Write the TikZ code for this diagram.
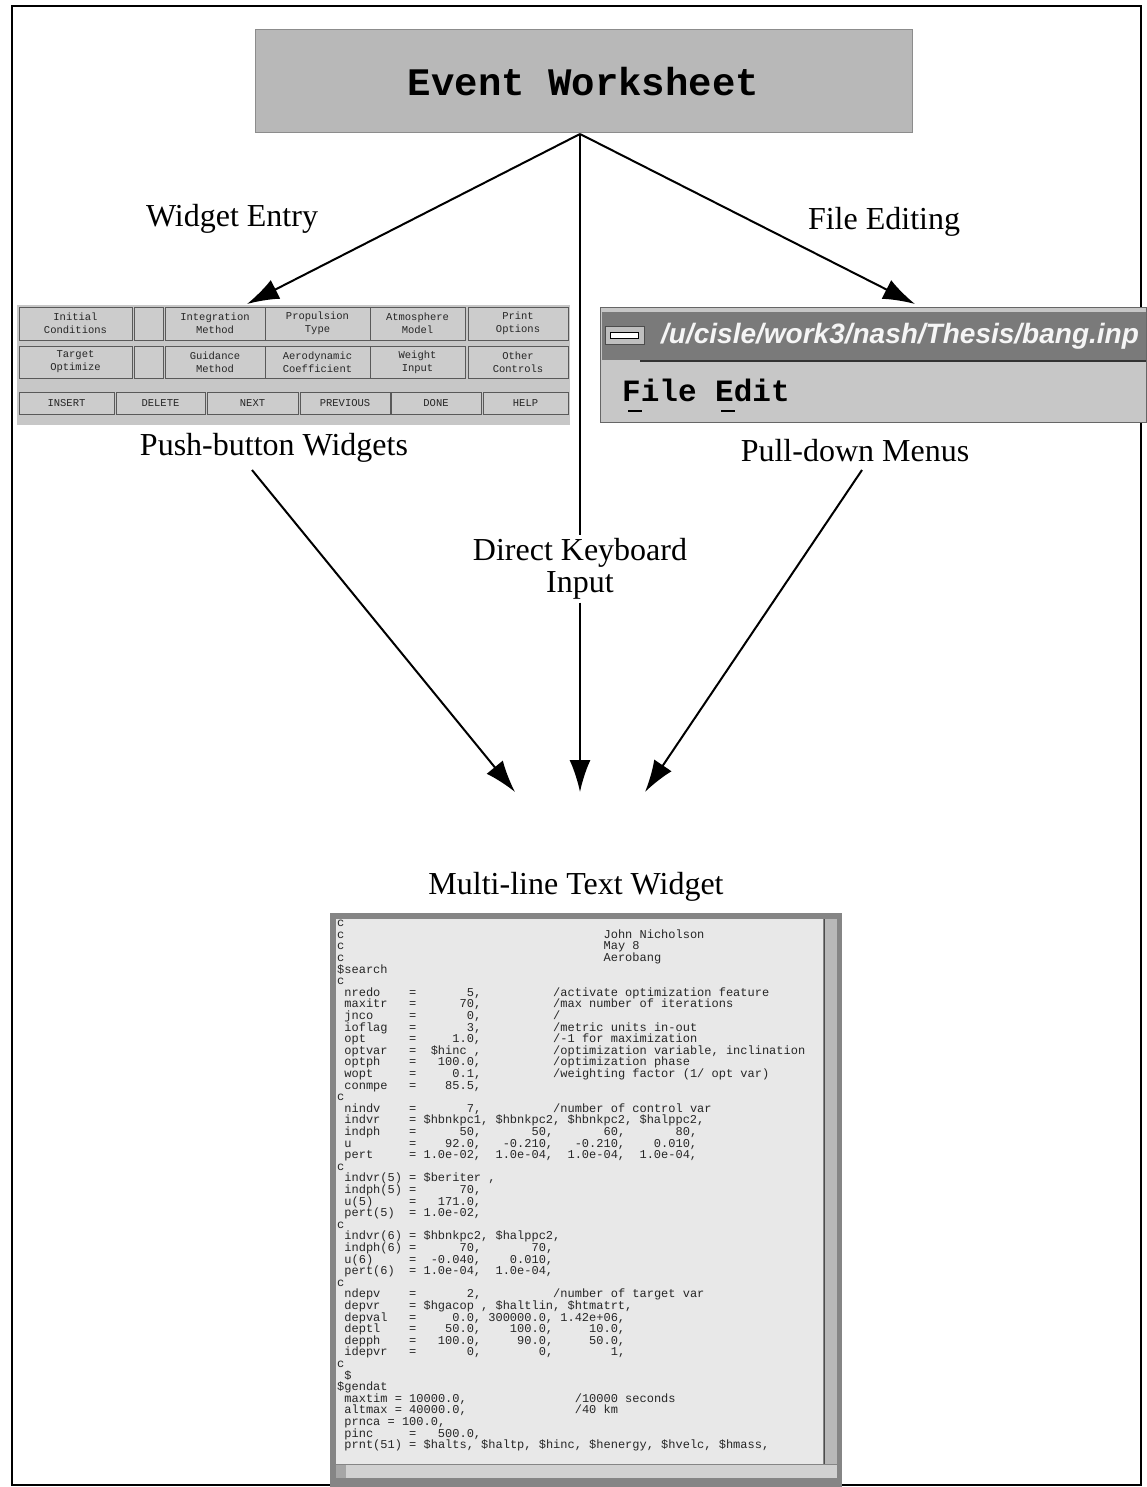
\documentclass[tikz,border=0pt]{standalone}
\usepackage{fontspec}
\usepackage{graphicx}
\setmainfont{Liberation Serif}
\setsansfont{Liberation Sans}
\setmonofont{Liberation Mono}
\usetikzlibrary{arrows.meta}
\newlength\cw
\setlength\cw{7.2pt}
\newcommand\pd[2]{\makebox[#1\cw][l]{#2}}
\newcommand\rp[2]{\makebox[#1\cw][r]{#2}}
\newcommand\CV[3]{\pd{10}{~#1}=\rp{9}{#2}\hspace*{10\cw}#3}
\newcommand\CQ[2]{\pd{10}{~#1}=#2}
\newcommand\FA[1]{\rp{9}{#1}}
\newcommand\FV[1]{\rp{10}{#1}}
\newcommand\GV[1]{\pd{10}{#1}}
\tikzset{
  lbl/.style={font=\fontsize{32}{32}\selectfont, inner sep=3pt, align=center},
  btn/.style={draw=black!65, line width=0.8pt, fill=black!20, inner sep=0pt,
    font=\fontsize{10.5}{13}\selectfont\ttfamily, text=black!85, align=center},
  arr/.style={line width=2pt, -{Latex[length=32pt,width=21pt]}},
  ln/.style={line width=2pt},
}
\begin{document}
\begin{tikzpicture}[x=1pt,y=-1pt]
\useasboundingbox (0,0) rectangle (1146,1487);
% outer frame
\draw[line width=2.5pt] (12,6) rectangle (1141,1485);

% Event Worksheet
\node[fill=black!28, draw=black!45, line width=1pt, minimum width=657, minimum height=103,
  font=\fontsize{39}{40}\selectfont\ttfamily\bfseries] (ew) at (583.5,81.5) {Event Worksheet};
\coordinate (apex) at (580,134);

% labels
\node[lbl] (we) at (232,219) {Widget Entry};
\node[lbl] (fe) at (884,222) {File Editing};
\node[lbl] (pbl) at (274,448) {Push-button Widgets};
\node[lbl] (pdl) at (855,451) {Pull-down Menus};
\node[lbl] (dk) at (580,569) {Direct Keyboard\\Input};
\node[lbl] (mt) at (576,887) {Multi-line Text Widget};

% push-button panel
\node[fill=black!22, minimum width=553, minimum height=120, inner sep=0pt] (pb) at (293.5,365) {};
\node[btn, minimum width=113, minimum height=33] (b1) at (75.5,323.5) {Initial\\Conditions};
\node[btn, minimum width=29, minimum height=33] (b0) at (148.5,323.5) {};
\node[btn, minimum width=100, minimum height=33] (b2) at (215,323.5) {Integration\\Method};
\node[btn, minimum width=105, minimum height=33] (b3) at (317.5,323.5) {Propulsion\\Type};
\node[btn, minimum width=95, minimum height=33] (b4) at (417.5,323.5) {Atmosphere\\Model};
\node[btn, minimum width=100, minimum height=33] (b5) at (518,323.5) {Print\\Options};
\node[btn, minimum width=113, minimum height=32] (c1) at (75.5,362) {Target\\Optimize};
\node[btn, minimum width=29, minimum height=32] (c0) at (148.5,362) {};
\node[btn, minimum width=100, minimum height=32] (c2) at (215,362) {Guidance\\Method};
\node[btn, minimum width=105, minimum height=32] (c3) at (317.5,362) {Aerodynamic\\Coefficient};
\node[btn, minimum width=95, minimum height=32] (c4) at (417.5,362) {Weight\\Input};
\node[btn, minimum width=100, minimum height=32] (c5) at (518,362) {Other\\Controls};
\node[btn, minimum width=95, minimum height=22] (d1) at (66.5,403) {INSERT};
\node[btn, minimum width=89, minimum height=22] (d2) at (160.5,403) {DELETE};
\node[btn, minimum width=91, minimum height=22] (d3) at (252.5,403) {NEXT};
\node[btn, minimum width=90, minimum height=22] (d4) at (345,403) {PREVIOUS};
\node[btn, minimum width=90, minimum height=22] (d5) at (436,403) {DONE};
\node[btn, minimum width=85, minimum height=22] (d6) at (525.5,403) {HELP};

% pull-down window
\node[fill=black!22, draw=black!60, line width=1pt, minimum width=546, minimum height=114, inner sep=0pt] (pd) at (873,365) {};
\node[fill=black!52, minimum width=544, minimum height=48, inner sep=0pt] (tb) at (874,336) {};
\draw[black!80, line width=1.5pt] (640,361) -- (1146,361);
\node[fill=black!25, draw=black!70, minimum width=39, minimum height=18, inner sep=0pt] (mb) at (624.5,335) {};
\node[fill=white, draw=black, line width=0.8pt, minimum width=28, minimum height=6, inner sep=0pt] (mbar) at (624.5,335) {};
\node[text=black!4, font=\fontsize{28}{28}\selectfont\sffamily\itshape\bfseries, inner sep=0pt] (tt) at (900,336) {/u/cisle/work3/nash/Thesis/bang.inp};
\node[font=\fontsize{31}{31}\selectfont\ttfamily\bfseries, anchor=west, inner sep=0pt] (menu) at (622,390) {File Edit};
\draw[line width=2pt] (628,411) -- (642,411);
\draw[line width=2pt] (721,411) -- (735,411);

% text widget
\node[fill=black!48, minimum width=512, minimum height=574, inner sep=0pt, anchor=north west] (tw) at (330,913) {};
\node[fill=black!9, minimum width=487, minimum height=545, inner sep=0pt, anchor=north west] (ta) at (336,919) {};
\node[fill=black!28, minimum width=13, minimum height=545, inner sep=0pt, anchor=north west] (vs) at (824,919) {};
\draw[black!70, line width=1pt] (vs.north west) -- (vs.south west);
\node[fill=black!18, minimum width=501, minimum height=13, inner sep=0pt, anchor=north west] (hs) at (336,1465) {};
\node[fill=black!35, minimum width=10, minimum height=13, inner sep=0pt, anchor=north west] (ha) at (336,1465) {};

\node[anchor=north west, align=left, inner sep=0pt, text=black!85,
  font={\fontsize{12}{11.6}\ttfamily\lineskiplimit=-20pt\lineskip=0pt\relax}] (code) at (337,920) {%
c\\
\pd{37}{c}John Nicholson\\
\pd{37}{c}May 8\\
\pd{37}{c}Aerobang\\
\$search\\
c\\
\CV{nredo}{5,}{/activate optimization feature}\\
\CV{maxitr}{70,}{/max number of iterations}\\
\CV{jnco}{0,}{/}\\
\CV{ioflag}{3,}{/metric units in-out}\\
\CV{opt}{1.0,}{/-1 for maximization}\\
\CV{optvar}{\$hinc~,}{/optimization variable, inclination}\\
\CV{optph}{100.0,}{/optimization phase}\\
\CV{wopt}{0.1,}{/weighting factor (1/ opt var)}\\
\CV{conmpe}{85.5,}{}\\
c\\
\CV{nindv}{7,}{/number of control var}\\
\CQ{indvr}{~\GV{\$hbnkpc1,}\GV{\$hbnkpc2,}\GV{\$hbnkpc2,}\GV{\$halppc2,}}\\
\CQ{indph}{\FA{50,}\FV{50,}\FV{60,}\FV{80,}}\\
\CQ{u}{\FA{92.0,}\FV{-0.210,}\FV{-0.210,}\FV{0.010,}}\\
\CQ{pert}{\FA{1.0e-02,}\FV{1.0e-04,}\FV{1.0e-04,}\FV{1.0e-04,}}\\
c\\
\CQ{indvr(5)}{~\$beriter~,}\\
\CV{indph(5)}{70,}{}\\
\CV{u(5)}{171.0,}{}\\
\CV{pert(5)}{1.0e-02,}{}\\
c\\
\CQ{indvr(6)}{~\GV{\$hbnkpc2,}\GV{\$halppc2,}}\\
\CQ{indph(6)}{\FA{70,}\FV{70,}}\\
\CQ{u(6)}{\FA{-0.040,}\FV{0.010,}}\\
\CQ{pert(6)}{\FA{1.0e-04,}\FV{1.0e-04,}}\\
c\\
\CV{ndepv}{2,}{/number of target var}\\
\CQ{depvr}{~\GV{\$hgacop~,}\GV{\$haltlin,}\GV{\$htmatrt,}}\\
\CQ{depval}{\FA{0.0,}\FV{300000.0,}\FV{1.42e+06,}}\\
\CQ{deptl}{\FA{50.0,}\FV{100.0,}\FV{10.0,}}\\
\CQ{depph}{\FA{100.0,}\FV{90.0,}\FV{50.0,}}\\
\CQ{idepvr}{\FA{0,}\FV{0,}\FV{1,}}\\
c\\
~\$\\
\$gendat\\
\pd{33}{~maxtim~=~10000.0,}/10000 seconds\\
\pd{33}{~altmax~=~40000.0,}/40 km\\
~prnca~=~100.0,\\
\CV{pinc}{500.0,}{}\\
~prnt(51)~=~\$halts,~\$haltp,~\$hinc,~\$henergy,~\$hvelc,~\$hmass,};

% connectors
\coordinate (tL) at (247,304);
\coordinate (tR) at (915,304);
\coordinate (sL) at (252,470);
\coordinate (sR) at (862,470);
\coordinate (eL) at (515,792);
\coordinate (eM) at (580,792);
\coordinate (eR) at (645,792);
\draw[arr] (apex) -- (tL);
\draw[arr] (apex) -- (tR);
\draw[ln] (apex) -- (dk.north);
\draw[arr] (dk.south) -- (eM);
\draw[arr] (sL) -- (eL);
\draw[arr] (sR) -- (eR);
\end{tikzpicture}
\end{document}
